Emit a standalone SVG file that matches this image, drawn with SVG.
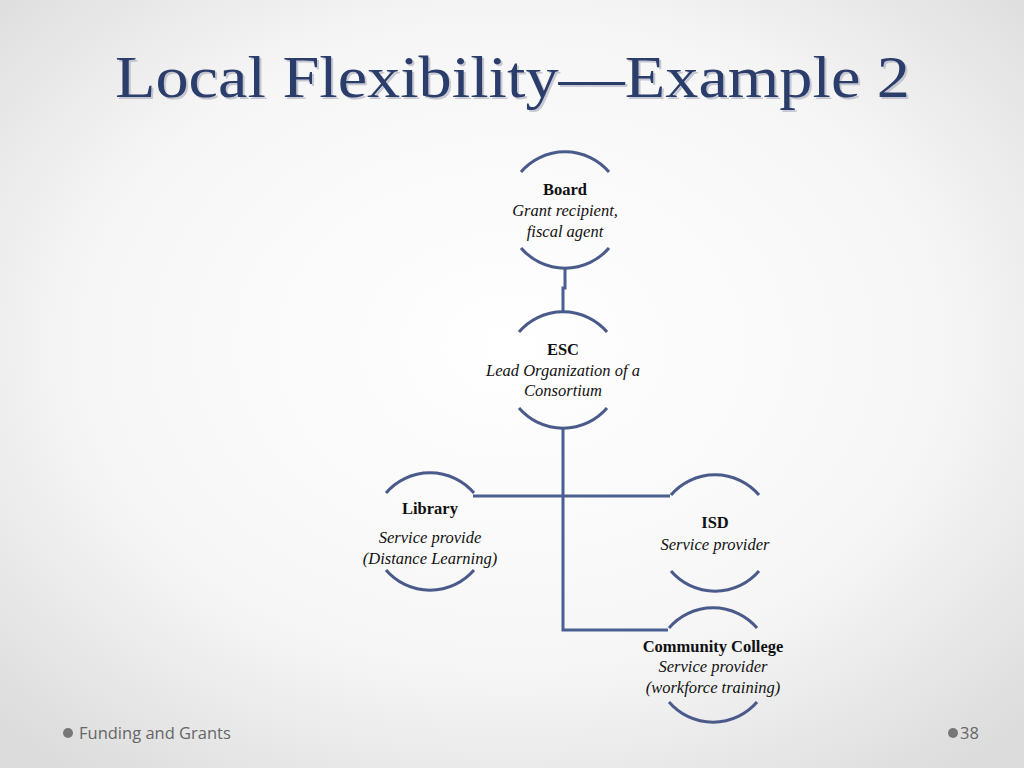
<svg xmlns="http://www.w3.org/2000/svg" width="1024" height="768" viewBox="0 0 1024 768">
<defs>
<radialGradient id="bg" cx="50%" cy="45%" r="70%"><stop offset="0" stop-color="#ffffff"/><stop offset="0.6" stop-color="#f6f6f6"/><stop offset="1" stop-color="#dcdcdc"/></radialGradient>
<style>
.arc{fill:none;stroke:#4a5a8a;stroke-width:3}
.ln{fill:none;stroke:#4a5f94;stroke-width:3}
.b{font-family:"Liberation Serif",serif;font-weight:bold;font-size:16.5px;text-anchor:middle;fill:#111}
.i{font-family:"Liberation Serif",serif;font-style:italic;font-size:16.5px;text-anchor:middle;fill:#111}
.f{font-family:"Open Sans","Liberation Sans",sans-serif;font-size:16.5px;fill:#666}
</style>
</defs>
<rect width="1024" height="768" fill="url(#bg)"/>
<text x="117" y="99" font-family="Liberation Serif,serif" font-size="60" fill="#aab" opacity="0.6" textLength="795" lengthAdjust="spacingAndGlyphs">Local Flexibility—Example 2</text>
<text x="115" y="97" font-family="Liberation Serif,serif" font-size="60" fill="#2b3d6b" textLength="795" lengthAdjust="spacingAndGlyphs">Local Flexibility—Example 2</text>
<g id="connectors">
<path class="ln" d="M565 267V288H563V313"/>
<path class="ln" d="M563 428V630H668"/>
<path class="ln" d="M473 496H670"/>
</g>
<g id="board"><path class="arc" d="M521 172A58 58 0 0 1 609 172M521 248A58 58 0 0 0 609 248"/>
<text class="b" x="565" y="195">Board</text><text class="i" x="565" y="216">Grant recipient,</text><text class="i" x="565" y="237">fiscal agent</text></g>
<g id="esc"><path class="arc" d="M519 332A58 58 0 0 1 607 332M519 408A58 58 0 0 0 607 408"/>
<text class="b" x="563" y="355">ESC</text><text class="i" x="563" y="376">Lead Organization of a</text><text class="i" x="563" y="396">Consortium</text></g>
<g id="library"><path class="arc" d="M386 493A58 58 0 0 1 474 493M386 570A58 58 0 0 0 474 570"/>
<text class="b" x="430" y="514">Library</text><text class="i" x="430" y="543">Service provide</text><text class="i" x="430" y="564">(Distance Learning)</text></g>
<g id="isd"><path class="arc" d="M671 495A58 58 0 0 1 759 495M671 571A58 58 0 0 0 759 571"/>
<text class="b" x="715" y="528">ISD</text><text class="i" x="715" y="550">Service provider</text></g>
<g id="cc"><path class="arc" d="M669 628A58 58 0 0 1 757 628M669 702A58 58 0 0 0 757 702"/>
<text class="b" x="713" y="652">Community College</text><text class="i" x="713" y="672">Service provider</text><text class="i" x="713" y="693">(workforce training)</text></g>
<circle cx="68" cy="733" r="5" fill="#777"/><text class="f" x="79" y="739">Funding and Grants</text>
<circle cx="953" cy="733" r="5" fill="#777"/><text class="f" x="960" y="739">38</text>
</svg>
